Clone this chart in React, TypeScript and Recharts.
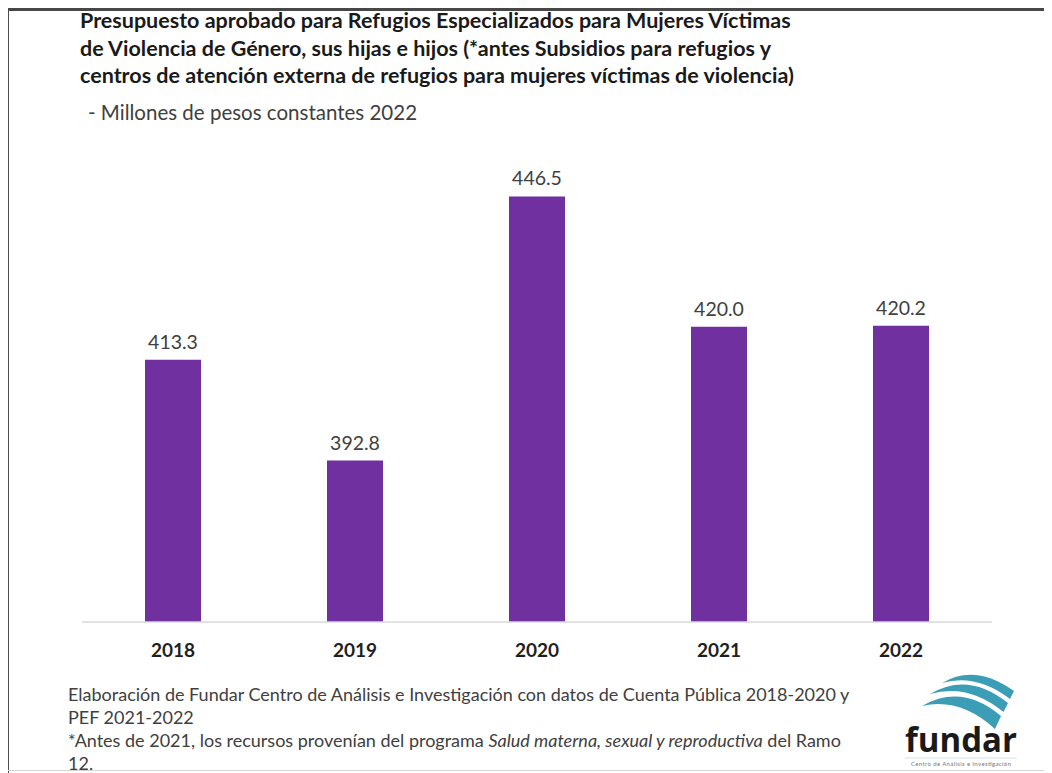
import React from "react";
import { BarChart, Bar, XAxis, YAxis, LabelList } from "recharts";

// Presupuesto aprobado, millones de pesos constantes 2022
const years = ["2018", "2019", "2020", "2021", "2022"];
const budget = [413.3, 392.8, 446.5, 420.0, 420.2];
const yDomain = [360, 460];

const titleLines = [
  "Presupuesto aprobado para Refugios Especializados para Mujeres Víctimas",
  "de Violencia de Género, sus hijas e hijos (*antes Subsidios para refugios y",
  "centros de atención externa de refugios para mujeres víctimas de violencia)",
];
const subtitle = "- Millones de pesos constantes 2022";

const FONT = "Lato, 'Open Sans', sans-serif";
const PURPLE = "#7030A0";

const data = years.map((year, i) => ({ year, value: budget[i] }));

const YearTick = ({ x, y, payload }: any) => (
  <text
    x={x}
    y={y + 27}
    textAnchor="middle"
    fontFamily={FONT}
    fontWeight={700}
    fontSize={19}
    fill="#1f1f1f"
  >
    {payload.value}
  </text>
);

const FundarLogo = () => (
  <svg
    width={125}
    height={108}
    style={{ position: "absolute", left: 892, top: 657 }}
  >
    <g fill="#3c9db6">
      <path d="M 42 18 Q 75 -2 114 26 L 110 34 Q 76 8 42 18 Z" />
      <path d="M 30 29 Q 68 6 108 38 L 103.5 47 Q 68 18 30 29 Z" />
      <path d="M 22 41 Q 62 18 101 51 L 95 64 Q 60 32 22 41 Z" />
    </g>
    <text
      x={5}
      y={87}
      fontFamily="'Open Sans', Lato, sans-serif"
      fontWeight={700}
      fontSize={34}
      fill="#1a1a1a"
      textLength={112}
      lengthAdjust="spacingAndGlyphs"
    >
      fundar
    </text>
    <line x1={5} x2={117} y1={93} y2={93} stroke="#cfe3ea" strokeWidth={1} />
    <text
      x={11}
      y={101}
      fontFamily={FONT}
      fontSize={6}
      fill="#777"
      textLength={100}
    >
      Centro de Análisis e Investigación
    </text>
  </svg>
);

export default function App() {
  return (
    <div
      style={{
        position: "relative",
        width: 1044,
        height: 765,
        background: "#fff",
        fontFamily: FONT,
        overflow: "hidden",
      }}
    >
      {/* frame lines */}
      <div style={{ position: "absolute", left: 0, top: 0, width: 1044, height: 3, background: "#474747" }} />
      <div style={{ position: "absolute", left: -1, top: 0, width: 2, height: 765, background: "#4d4d4d" }} />
      <div style={{ position: "absolute", left: 0, top: 762, width: 1044, height: 1, background: "#d6d6d6" }} />

      <div
        style={{
          position: "absolute",
          left: 72,
          top: -1,
          fontSize: 21.5,
          fontWeight: 700,
          lineHeight: "27.5px",
          color: "#1a1a1a",
          whiteSpace: "nowrap",
        }}
      >
        {titleLines.map((t) => (
          <div key={t}>{t}</div>
        ))}
      </div>
      <div
        style={{
          position: "absolute",
          left: 80,
          top: 91,
          fontSize: 20.5,
          lineHeight: "26px",
          color: "#404040",
          whiteSpace: "nowrap",
        }}
      >
        {subtitle}
      </div>

      <div style={{ position: "absolute", left: 0, top: 0 }}>
        <BarChart
          width={1044}
          height={680}
          data={data}
          margin={{ top: 122, right: 60, bottom: 16, left: 74 }}
        >
          <XAxis
            dataKey="year"
            height={50}
            axisLine={{ stroke: "#d9d9d9", strokeWidth: 1.5 }}
            tickLine={false}
            tick={<YearTick />}
            interval={0}
          />
          <YAxis hide type="number" domain={yDomain} allowDataOverflow />
          <Bar dataKey="value" fill={PURPLE} barSize={56} isAnimationActive={false}>
            <LabelList
              dataKey="value"
              position="top"
              offset={11}
              formatter={(v: any) => Number(v).toFixed(1)}
              style={{ fontFamily: FONT, fontSize: 19.5, fill: "#404040" }}
            />
          </Bar>
        </BarChart>
      </div>

      <div
        style={{
          position: "absolute",
          left: 60,
          top: 675,
          fontSize: 18,
          lineHeight: "23px",
          color: "#404040",
          whiteSpace: "nowrap",
        }}
      >
        <div>
          Elaboración de Fundar Centro de Análisis e Investigación con datos de Cuenta Pública 2018-2020 y
        </div>
        <div>PEF 2021-2022</div>
        <div>
          *Antes de 2021, los recursos provenían del programa{" "}
          <i>Salud materna, sexual y reproductiva</i> del Ramo
        </div>
        <div>12.</div>
      </div>

      <FundarLogo />
    </div>
  );
}
